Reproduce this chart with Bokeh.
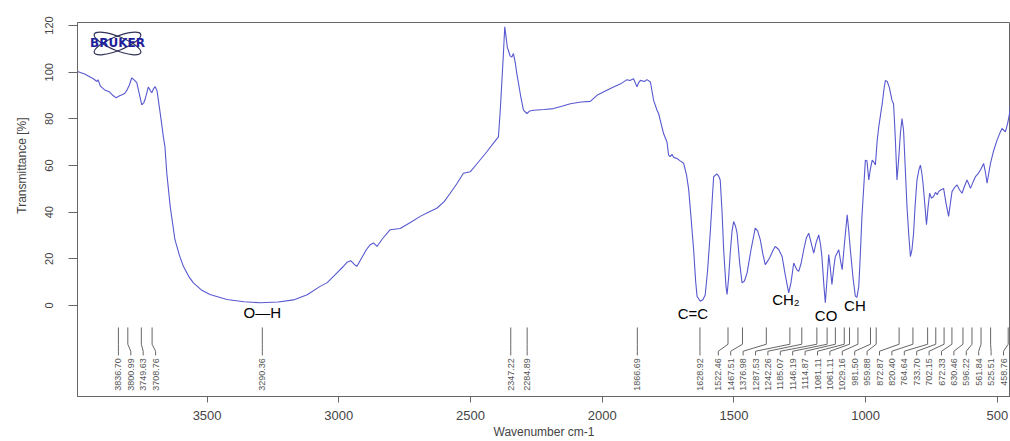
from math import pi
from bokeh.plotting import figure
from bokeh.models import Range1d, Label, FixedTicker, Title
from bokeh.core.properties import value
from bokeh.embed import file_html
from bokeh.resources import INLINE

# ---------------- data ----------------
wavenumber = [3992, 3965, 3932, 3918, 3914, 3905, 3890, 3870, 3857, 3845, 3838, 3825, 3812, 3805,
              3795, 3786, 3775, 3767, 3758, 3748, 3740, 3735, 3723, 3715, 3710, 3703, 3697, 3690,
              3685, 3675, 3666, 3660, 3653, 3640, 3622, 3605, 3590, 3570, 3552, 3520, 3489, 3425,
              3360, 3299, 3230, 3172, 3120, 3071, 3045, 3007, 2985, 2969, 2955, 2940, 2931, 2915,
              2895, 2881, 2868, 2855, 2835, 2805, 2767, 2730, 2691, 2660, 2628, 2600, 2577, 2550,
              2527, 2501, 2470, 2438, 2410, 2394, 2387, 2375, 2370, 2366, 2360, 2356, 2350, 2343,
              2337, 2330, 2324, 2310, 2299, 2286, 2275, 2261, 2220, 2185, 2150, 2121, 2080, 2045,
              2020, 1990, 1957, 1930, 1906, 1895, 1881, 1868, 1862, 1855, 1840, 1830, 1817, 1805,
              1792, 1786, 1767, 1754, 1748, 1742, 1735, 1729, 1716, 1704, 1691, 1680, 1672, 1663,
              1653, 1645, 1640, 1628, 1618, 1609, 1600, 1590, 1582, 1577, 1565, 1558, 1552, 1545,
              1539, 1530, 1526, 1520, 1514, 1507, 1501, 1494, 1488, 1478, 1469, 1460, 1450, 1435,
              1419, 1410, 1400, 1390, 1381, 1372, 1362, 1350, 1343, 1330, 1317, 1305, 1292, 1283,
              1273, 1262, 1254, 1245, 1235, 1225, 1216, 1207, 1197, 1188, 1178, 1171, 1166, 1158,
              1153, 1146, 1140, 1134, 1128, 1120, 1115, 1108, 1102, 1095, 1089, 1080, 1070, 1064,
              1058, 1048, 1039, 1033, 1026, 1020, 1014, 1007, 1001, 995, 988, 982, 975, 969,
              963, 956, 950, 943, 937, 930, 925, 918, 910, 900, 894, 890, 887, 881,
              875, 868, 862, 856, 850, 843, 836, 830, 824, 818, 812, 805, 798, 792,
              787, 782, 775, 769, 763, 757, 750, 742, 735, 728, 723, 715, 704, 695,
              685, 678, 672, 663, 653, 643, 634, 625, 615, 608, 602, 592, 583, 573,
              564, 552, 545, 539, 532, 526, 515, 501, 490, 482, 475, 469, 460, 454, 450]
transmittance = [100.3, 99.2, 97.2, 96.0, 96.8, 94.0, 92.5, 91.5, 90.0, 89.0, 89.6, 90.2, 91.0, 92.2,
                 94.5, 97.6, 96.5, 95.5, 91.0, 86.0, 87.0, 88.5, 93.7, 92.0, 91.2, 93.0, 93.8, 92.0,
                 88.0, 80.0, 72.3, 68.0, 56.7, 42.4, 28.2, 21.5, 16.8, 12.5, 9.7, 6.5, 4.7, 2.6,
                 1.6, 1.2, 1.5, 2.4, 4.6, 8.2, 9.7, 14.0, 16.5, 18.5, 19.2, 17.5, 16.8, 20.0,
                 24.0, 26.0, 26.8, 25.3, 28.5, 32.5, 33.0, 35.5, 38.2, 40.0, 41.7, 44.5, 48.1, 52.5,
                 56.7, 57.3, 61.5, 65.9, 70.0, 72.3, 83.7, 108.0, 119.5, 116.0, 110.5, 109.3, 107.0, 106.5,
                 108.0, 104.0, 99.3, 90.0, 83.7, 82.3, 83.4, 83.7, 84.0, 84.4, 85.5, 86.5, 87.2, 87.5,
                 90.1, 91.8, 93.7, 95.0, 96.8, 96.4, 97.2, 93.7, 95.5, 96.5, 96.0, 96.8, 95.8, 88.0,
                 83.7, 82.3, 73.7, 70.0, 64.5, 63.8, 64.8, 63.5, 63.0, 62.0, 61.0, 56.0, 50.0, 38.0,
                 23.9, 10.0, 4.0, 1.8, 2.5, 4.5, 15.0, 31.0, 46.0, 55.2, 56.4, 55.5, 53.8, 40.0,
                 23.9, 8.0, 4.7, 12.0, 22.5, 32.0, 36.0, 34.0, 31.0, 18.0, 9.7, 10.5, 14.0, 24.0,
                 33.2, 32.0, 28.2, 22.0, 17.5, 19.0, 21.0, 24.0, 25.3, 24.0, 21.0, 13.0, 5.4, 10.0,
                 18.2, 15.5, 14.6, 18.0, 23.9, 29.0, 31.0, 27.0, 22.5, 27.0, 30.3, 26.0, 21.0, 8.0,
                 1.2, 12.0, 21.8, 16.0, 9.0, 17.0, 21.0, 22.5, 23.9, 19.0, 15.4, 27.0, 38.9, 32.0,
                 23.9, 12.0, 4.0, 3.5, 8.2, 22.0, 38.2, 51.0, 62.3, 62.0, 53.8, 58.5, 62.3, 61.5,
                 60.2, 70.9, 76.6, 82.0, 86.5, 93.0, 96.5, 96.0, 93.5, 88.0, 86.5, 78.0, 70.9, 53.8,
                 62.0, 73.7, 80.1, 75.1, 60.0, 42.4, 30.0, 21.0, 24.0, 31.0, 43.0, 53.8, 58.0, 60.2,
                 57.0, 52.4, 43.0, 34.6, 42.0, 48.1, 46.0, 46.7, 48.5, 47.5, 48.8, 49.5, 50.2, 44.0,
                 38.2, 44.0, 48.8, 50.5, 51.7, 49.5, 48.1, 51.0, 53.8, 52.0, 50.2, 53.0, 55.2, 56.5,
                 58.1, 60.9, 57.0, 52.4, 57.0, 60.9, 66.0, 70.9, 74.0, 75.9, 75.0, 74.5, 78.5, 82.0, 86.0]

peak_wavenumbers = [3836.70, 3800.99, 3749.63, 3708.76, 3290.36, 2347.22, 2284.89, 1866.69,
                    1628.92, 1522.46, 1467.51, 1376.98, 1287.53, 1242.26, 1185.07, 1146.19,
                    1114.87, 1081.11, 1061.11, 1029.16, 981.50, 959.88, 872.87, 820.40,
                    764.64, 733.70, 702.15, 672.33, 630.46, 596.22, 561.84, 525.51, 458.76]

band_names = ["O\u2014H", "C=C", "CH\u2082", "CO", "CH"]
band_peaks = [3290.36, 1628.92, 1287.53, 1146.19, 1029.16]

x_ticks = [3500, 3000, 2500, 2000, 1500, 1000, 500]
y_ticks = [0, 20, 40, 60, 80, 100, 120]
x_title = "Wavenumber cm-1"
y_title = "Transmittance [%]"

# ---------------- layout ----------------
W, H = 1010, 441
BL, BR, BT, BB = 77, 0, 22, 44
X0, X1 = 3992, 450
Y0, Y1 = -39, 121.3
FW = W - BL - BR
SX = FW / (X0 - X1)  # px per wavenumber unit

FONT_NAME = "Liberation Sans"
FONT = value(FONT_NAME)
LINE = "#5858d0"
GREY = "#555555"

p = figure(width=W, height=H, x_range=Range1d(X0, X1), y_range=Range1d(Y0, Y1),
           output_backend="svg", toolbar_location=None,
           min_border_left=BL, min_border_right=BR, min_border_top=BT, min_border_bottom=BB)
p.background_fill_color = "white"
p.border_fill_color = "white"
p.outline_line_color = "#666666"
p.grid.visible = False

# spectrum
p.line(wavenumber, transmittance, line_color=LINE, line_width=1.1)

# peak pick labels
n = len(peak_wavenumbers)
nat = [(X0 - w) * SX for w in peak_wavenumbers]
gap = 12.4
pos = nat[:]
for i in range(1, n):
    pos[i] = max(pos[i], pos[i - 1] + gap)
pos[-1] = min(pos[-1], FW - 7)
for i in range(n - 2, -1, -1):
    pos[i] = min(pos[i], pos[i + 1] - gap)
lab_wn = [X0 - q / SX for q in pos]

yt, yb1, yb2, ye = -9.4, -16.6, -19.6, -21.4
xs = [[w, w, l, l] for w, l in zip(peak_wavenumbers, lab_wn)]
ys = [[yt, yb1, yb2, ye] for _ in peak_wavenumbers]
p.multi_line(xs, ys, line_color="#666666", line_width=1)
p.text(x=lab_wn, y=[-22.6] * n, text=[f"{w:.2f}" for w in peak_wavenumbers],
       angle=pi / 2, text_align="right", text_baseline="middle",
       text_font_size="9px", text_color=GREY, text_font=FONT)

# band annotations
band_dx = [0, -7, -4, -1, -3]
band_dy = [-3.0, -3.4, 2.6, -4.3, 0.0]
for name, pk, dx, dy in zip(band_names, band_peaks, band_dx, band_dy):
    p.add_layout(Label(x=pk, y=dy, x_offset=dx, text=name, text_align="center",
                       text_baseline="middle", text_font_size="15px", text_color="black",
                       text_font=FONT_NAME))

# Bruker logo (decoration)
lx = X0 - (117 - BL) / SX
ly = 112.3
p.ellipse(x=[lx, lx], y=[ly, ly], width=50, height=14, width_units="screen",
          height_units="screen", angle=[0.38, -0.38], fill_color=None,
          line_color="#33335a", line_width=1.2)
p.add_layout(Label(x=lx, y=ly, text="BRUKER", text_align="center", text_baseline="middle",
                   text_font_size="12px", text_font_style="bold", text_color="#1f1f9a",
                   text_font="DejaVu Sans"))

# axes
for ax in (p.xaxis[0], p.yaxis[0]):
    ax.axis_line_color = "#666666"
    ax.major_tick_line_color = "#666666"
    ax.minor_tick_line_color = None
    ax.major_tick_in = 0
    ax.major_label_text_color = "#444444"
    ax.major_label_text_font = FONT_NAME
    ax.axis_label_text_font = FONT_NAME
    ax.axis_label_text_font_style = "normal"
    ax.axis_label_text_color = "#444444"

p.xaxis.ticker = FixedTicker(ticks=x_ticks)
p.xaxis.major_tick_out = 6
p.xaxis.major_label_standoff = 8
p.xaxis.major_label_text_font_size = "13px"
p.xaxis.axis_label = x_title
p.xaxis.axis_label_text_font_size = "12px"
p.xaxis.axis_label_standoff = 2

p.yaxis.ticker = FixedTicker(ticks=y_ticks)
p.yaxis.major_tick_out = 9
p.yaxis.major_label_standoff = 15
p.yaxis.major_label_orientation = "vertical"
p.yaxis.major_label_text_font_size = "11px"
p.yaxis.axis_label = None

# y title, placed to the left of the axis and centred on the 0..120 scale
p.add_layout(Title(text=y_title, align="right", offset=95, vertical_align="middle",
                   text_font_size="12px", text_font=FONT_NAME, text_font_style="normal",
                   text_color="#444444", standoff=25), "left")

open("out.html", "w").write(file_html(p, INLINE))
